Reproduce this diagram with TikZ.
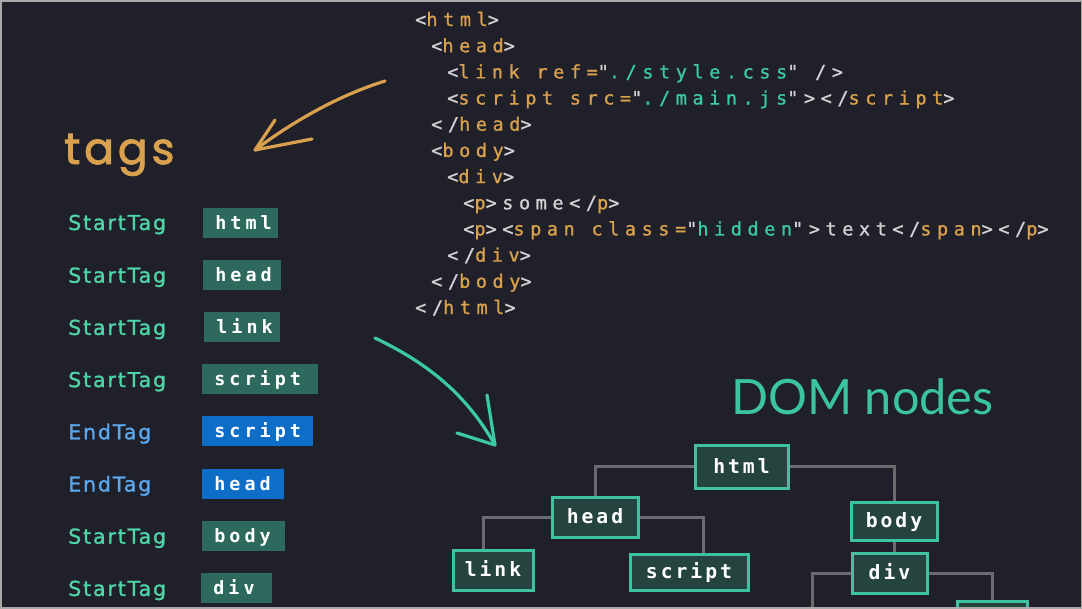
\documentclass[tikz,border=0pt]{standalone}
\usepackage{fontspec}
\newfontfamily\codefont{DejaVu Sans Mono}[LetterSpace=30, FakeBold=1]
\newfontfamily\boxfont{DejaVu Sans Mono}[LetterSpace=22]
\newfontfamily\treefont{DejaVu Sans Mono}[LetterSpace=15]
\newfontfamily\labelfont{DejaVu Sans}[LetterSpace=9, FakeBold=1.2]
\newfontfamily\titlefont{Poppins}[LetterSpace=9, FakeBold=2]
\newfontfamily\domfont{Lato}
\definecolor{bg}{HTML}{1F2029}
\definecolor{frame}{HTML}{A8A8A8}
\definecolor{orangec}{HTML}{D9A04E}
\definecolor{codew}{HTML}{D2D2D2}
\definecolor{codet}{HTML}{3CC9A5}
\definecolor{lblteal}{HTML}{4FD6A8}
\definecolor{lblblue}{HTML}{5AA8EE}
\definecolor{tagfill}{HTML}{2D6A5D}
\definecolor{bluefill}{HTML}{0E6DC6}
\definecolor{treefill}{HTML}{25443F}
\definecolor{treeborder}{HTML}{3EC3A0}
\definecolor{graylin}{HTML}{6B6B70}
\definecolor{domteal}{HTML}{3CC3A0}
\newcommand\cwh[1]{\textcolor{codew}{#1}}
\newcommand\cor[1]{\textcolor{orangec}{#1}}
\newcommand\cte[1]{\textcolor{codet}{#1}}
\begin{document}
\begin{tikzpicture}[x=0.75pt,y=-0.75pt,
  code/.style={anchor=base west, inner sep=0pt, font=\codefont\fontsize{13.9pt}{16pt}\selectfont},
  lbl/.style={anchor=base west, inner sep=0pt, font=\labelfont\fontsize{15.4pt}{18pt}\selectfont},
  tagbox/.style={anchor=west, fill=tagfill, text=white, inner xsep=12*0.75pt, inner ysep=0pt,
    minimum height=30*0.75pt, align=left, text height=11.5pt, text depth=1.7pt,
    font=\boxfont\bfseries\fontsize{13.8pt}{16pt}\selectfont},
  endbox/.style={tagbox, fill=bluefill},
  tnode/.style={draw=treeborder, fill=treefill, line width=3*0.75pt, text=white, inner sep=0pt,
    text height=12pt, text depth=2.2pt, font=\treefont\bfseries\fontsize{14.8pt}{17pt}\selectfont},
  tline/.style={draw=graylin, line width=3*0.75pt},
  sketch/.style={line width=3.2*0.75pt, line cap=round, line join=round}]
\useasboundingbox (0,0) rectangle (1082,608);
\clip (0,0) rectangle (1082,608);
\fill[bg] (0,0) rectangle (1082,608);

% code
\node[code] (c1)  at (415,26)    {\cwh{<}\cor{html}\cwh{>}};
\node[code] (c2)  at (431,52.2)  {\cwh{<}\cor{head}\cwh{>}};
\node[code] (c3)  at (447,78.4)  {\cwh{<}\cor{link ref=}\cwh{"}\cte{./style.css}\cwh{" />}};
\node[code] (c4)  at (447,104.5) {\cwh{<}\cor{script src=}\cwh{"}\cte{./main.js}\cwh{"></}\cor{script}\cwh{>}};
\node[code] (c5)  at (431,130.7) {\cwh{</}\cor{head}\cwh{>}};
\node[code] (c6)  at (431,156.9) {\cwh{<}\cor{body}\cwh{>}};
\node[code] (c7)  at (447,183.1) {\cwh{<}\cor{div}\cwh{>}};
\node[code] (c8)  at (463,209.3) {\cwh{<}\cor{p}\cwh{>some</}\cor{p}\cwh{>}};
\node[code] (c9)  at (463,235.4) {\cwh{<}\cor{p}\cwh{><}\cor{span class=}\cwh{"}\cte{hidden}\cwh{">text</}\cor{span}\cwh{></}\cor{p}\cwh{>}};
\node[code] (c10) at (447,261.6) {\cwh{</}\cor{div}\cwh{>}};
\node[code] (c11) at (431,287.8) {\cwh{</}\cor{body}\cwh{>}};
\node[code] (c12) at (415,314)   {\cwh{</}\cor{html}\cwh{>}};

% titles
\node[anchor=base west, inner sep=0pt, text=orangec, font=\titlefont\fontsize{33pt}{38pt}\selectfont] (tags) at (64,164) {tags};
\node[anchor=base west, inner sep=0pt, text=domteal, font=\domfont\fontsize{36.5pt}{42pt}\selectfont] (dom) at (731,414) {DOM nodes};

% token list
\node[lbl, text=lblteal] (l1) at (68,230)   {StartTag};
\node[lbl, text=lblteal] (l2) at (68,282.7) {StartTag};
\node[lbl, text=lblteal] (l3) at (68,334.9) {StartTag};
\node[lbl, text=lblteal] (l4) at (68,387.1) {StartTag};
\node[lbl, text=lblblue] (l5) at (68,439.3) {EndTag};
\node[lbl, text=lblblue] (l6) at (68,491.5) {EndTag};
\node[lbl, text=lblteal] (l7) at (68,543.7) {StartTag};
\node[lbl, text=lblteal] (l8) at (68,595.9) {StartTag};

\node[tagbox, text width=51*0.75pt] (b1) at (203,222.5) {html};
\node[tagbox, text width=54*0.75pt] (b2) at (203,274.7) {head};
\node[tagbox, text width=52*0.75pt] (b3) at (204,326.9) {link};
\node[tagbox, text width=92*0.75pt] (b4) at (202,379.1) {script};
\node[endbox, text width=87*0.75pt] (b5) at (202,431.3) {script};
\node[endbox, text width=58*0.75pt] (b6) at (202,483.5) {head};
\node[tagbox, text width=59*0.75pt] (b7) at (202,535.7) {body};
\node[tagbox, text width=47*0.75pt] (b8) at (201,587.9) {div};

% arrows
\coordinate (oa1) at (385,81);
\coordinate (oa2) at (255,150);
\draw[sketch, orangec] (oa1) .. controls (340,95) and (295,120) .. (oa2);
\draw[sketch, orangec] (275,120) -- (oa2) -- (312,139);
\coordinate (ta1) at (375,338);
\coordinate (ta2) at (495,445);
\draw[sketch, codet] (ta1) .. controls (425,362) and (465,392) .. (ta2);
\draw[sketch, codet] (487,395) -- (ta2) -- (457,433);

% DOM tree
\node[tnode, minimum width=93*0.75pt, minimum height=43*0.75pt] (thtml) at (741.5,466.5) {html};
\node[tnode, minimum width=86*0.75pt, minimum height=40*0.75pt] (thead) at (595,517) {head};
\node[tnode, minimum width=86*0.75pt, minimum height=38*0.75pt] (tbody) at (894,521) {body};
\node[tnode, minimum width=80*0.75pt, minimum height=40*0.75pt] (tlink) at (493,570) {link};
\node[tnode, minimum width=118*0.75pt, minimum height=36*0.75pt] (tscript) at (689,572) {script};
\node[tnode, minimum width=75*0.75pt, minimum height=40*0.75pt] (tdiv) at (889.5,573) {div};
\node[tnode, minimum width=70*0.75pt, minimum height=48*0.75pt] (tp) at (992,625) {};
\coordinate (dleft) at (812,620);

\draw[tline] (thtml.west) -| (thead.north);
\draw[tline] (thtml.east) -| (tbody.north);
\draw[tline] (thead.west) -| ([xshift=-10*0.75pt]tlink.north);
\draw[tline] (thead.east) -| ([xshift=14*0.75pt]tscript.north);
\draw[tline] (tbody.south) -- (tbody.south |- tdiv.north);
\draw[tline] (tdiv.west) -| (dleft);
\draw[tline] (tdiv.east) -| (tp.north);

% frame
\draw[frame, line width=3*0.75pt] (0,0) rectangle (1082,608);
\end{tikzpicture}
\end{document}
